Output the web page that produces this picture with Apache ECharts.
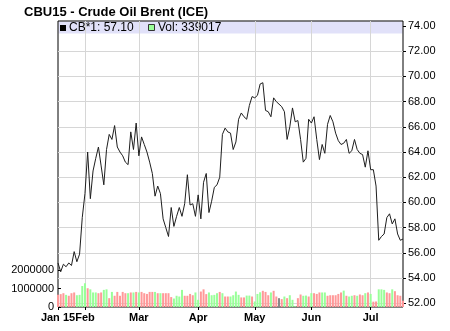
<!DOCTYPE html>
<html><head><meta charset="utf-8">
<script src="https://cdn.jsdelivr.net/npm/echarts@6/dist/echarts.min.js"></script>
<style>html,body{margin:0;padding:0;background:#fff}#c{width:450px;height:331px}</style>
</head><body><div id="c"></div>
<script>
const titleText = 'CBU15 - Crude Oil Brent (ICE)';
const seriesName = 'CB*1';
const startDate = '2015-01-19';
const holidays = ['2015-04-03'];
const monthNames = ['Jan 15','Feb','Mar','Apr','May','Jun','Jul'];
const priceMin = 52, priceMax = 74, priceStep = 2;
const volMax = 2000000, volStep = 1000000;

const prices = [
55.2,54.5,55.1,54.9,55.2,55.0,56.1,55.3,55.9,58.8,
60.7,64.0,60.3,62.5,63.5,64.4,62.9,61.4,64.2,65.4,
65.0,66.1,64.4,64.0,63.7,63.2,63.0,65.6,64.2,66.3,
63.7,65.2,64.6,64.0,63.2,62.3,60.5,61.3,60.7,58.7,
58.0,57.3,59.6,58.1,58.9,59.6,58.9,59.9,62.2,59.8,
59.9,58.9,60.6,58.7,61.6,62.3,59.2,60.1,61.2,61.4,
62.0,65.4,65.9,65.6,65.5,64.2,64.8,66.6,67.1,66.8,
66.6,67.7,68.4,68.3,68.5,69.4,69.5,67.3,67.2,66.8,
68.3,68.0,67.8,67.6,67.2,65.0,66.0,67.5,66.4,66.5,
65.0,63.2,63.5,66.6,66.3,66.8,65.0,63.4,64.6,63.9,
66.2,66.9,66.4,65.5,64.9,64.6,64.7,65.0,63.9,64.1,
65.0,64.2,63.9,63.8,62.8,64.1,62.6,62.6,61.3,57.0,
57.3,57.5,58.8,59.1,58.3,58.7,57.5,57.0,57.1
];

const volumes = [
660000,700000,750000,660000,610000,750000,790000,640000,660000,1140000,
1290000,1020000,960000,790000,790000,750000,790000,930000,960000,480000,
820000,610000,820000,610000,820000,750000,750000,790000,790000,820000,
790000,820000,750000,710000,820000,820000,820000,750000,750000,750000,
750000,750000,540000,460000,610000,570000,930000,610000,610000,710000,
640000,790000,390000,840000,960000,700000,790000,640000,660000,750000,
820000,750000,570000,570000,570000,640000,840000,660000,520000,520000,
620000,620000,570000,300000,710000,800000,880000,820000,640000,790000,
880000,570000,480000,430000,570000,480000,640000,390000,40000,480000,
680000,610000,620000,570000,750000,750000,710000,790000,790000,790000,
610000,640000,640000,640000,710000,790000,890000,610000,570000,610000,
640000,610000,680000,640000,750000,790000,710000,290000,300000,960000,
960000,930000,790000,750000,960000,860000,640000,610000,339017
];

// G = up (green), R = down (red), N = unchanged (grey)
const volDir = [
'R','R','R','G','R','R','R','G','G','G',
'G','R','G','G','G','R','R','G','G','R',
'G','R','R','R','R','R','G','R','G','R',
'G','R','R','R','R','R','G','R','G','R',
'R','R','R','G','G','G','G','R','R','R',
'R','G','G','R','R','R','G','G','G','G',
'R','G','R','R','G','G','G','G','R','R',
'G','G','R','G','G','G','R','R','R','G',
'R','R','N','R','G','R','G','G','G','R',
'R','G','G','R','G','R','R','R','G','G',
'R','R','R','R','R','R','G','R','G','G',
'R','G','R','R','G','R','G','R','R','G',
'G','G','R','R','G','R','R','R','R'
];

// trading-day categories
const dates = [];
(function(){
  let d = new Date(startDate + 'T00:00:00Z');
  while (dates.length < prices.length) {
    const wd = d.getUTCDay();
    const s = d.toISOString().slice(0,10);
    if (wd !== 0 && wd !== 6 && holidays.indexOf(s) < 0) dates.push(s);
    d = new Date(d.getTime() + 86400000);
  }
})();
const labelAt = {};
let mi = 0;
dates.forEach((s, i) => {
  if (i === 0 || s.slice(5,7) !== dates[i-1].slice(5,7)) { labelAt[i] = monthNames[mi++]; }
});

const FONT = '"Liberation Sans", Arial, Helvetica, sans-serif';
const GL = 58, GR = 47;
const colors = {G:'#99ff99', R:'#ff9999', N:'#888888'};
const lastPrice = prices[prices.length-1];
const lastVol = volumes[volumes.length-1];

const chart = echarts.init(document.getElementById('c'), null, {renderer:'canvas'});
chart.setOption({
  animation: false,
  backgroundColor: '#fff',
  textStyle: {fontFamily: FONT},
  title: {text: titleText, left: 24, top: 6, padding: 0,
          textStyle: {fontFamily: FONT, fontWeight: 'bold', fontSize: 13, color: '#000'}},
  grid: [
    {left: GL, right: GR, top: 21, bottom: 24, show: true, borderColor: '#000', borderWidth: 1, backgroundColor: 'transparent'},
    {left: GL, right: GR, top: 26, bottom: 27.7},
    {left: GL, right: GR, top: 270.2, bottom: 24}
  ],
  graphic: [
    {type:'rect', z:-10, shape:{x:GL+0.5, y:21.5, width:344, height:12}, style:{fill:'#e1e1f9'}},
    {type:'rect', shape:{x:60, y:25, width:6, height:6}, style:{fill:'#000'}},
    {type:'text', style:{x:69, y:28, text: seriesName + ': ' + lastPrice.toFixed(2), fontSize:12, fontFamily:FONT, fill:'#000', verticalAlign:'middle', textAlign:'left'}},
    {type:'rect', shape:{x:148.5, y:24.5, width:6, height:6}, style:{fill:'#99ff99', stroke:'#333', lineWidth:1}},
    {type:'text', style:{x:158, y:28, text: 'Vol: ' + lastVol, fontSize:12, fontFamily:FONT, fill:'#000', verticalAlign:'middle', textAlign:'left'}}
  ],
  xAxis: [
    {type:'category', gridIndex:0, data:dates, boundaryGap:false,
     axisLine:{show:false},
     axisTick:{show:true, length:3, interval:(i)=>labelAt[i]!==undefined, lineStyle:{color:'#000'}},
     axisLabel:{show:true, interval:(i)=>labelAt[i]!==undefined, formatter:(v,i)=>labelAt[i]||'', fontWeight:'bold', fontSize:11, color:'#000', margin:5, fontFamily:FONT},
     splitLine:{show:true, interval:(i)=>labelAt[i]!==undefined && i>0, lineStyle:{color:'#d6d6d6', width:1}}},
    {type:'category', gridIndex:1, data:dates, boundaryGap:false, show:false},
    {type:'category', gridIndex:2, data:dates, boundaryGap:false, show:false}
  ],
  yAxis: [
    {type:'value', gridIndex:0, show:false},
    {type:'value', gridIndex:1, position:'right', min:priceMin, max:priceMax, interval:priceStep,
     axisLine:{show:false},
     axisTick:{show:true, length:3, lineStyle:{color:'#000'}},
     axisLabel:{formatter:(v)=>v.toFixed(2), fontSize:11, color:'#000', margin:5, fontFamily:FONT},
     splitLine:{show:true, showMaxLine:false, lineStyle:{color:'#d6d6d6', width:1}}},
    {type:'value', gridIndex:2, position:'left', min:0, max:volMax, interval:volStep,
     axisLine:{show:false},
     axisTick:{show:true, inside:true, length:3, lineStyle:{color:'#000'}},
     axisLabel:{fontSize:11, color:'#000', margin:4, fontFamily:FONT, formatter:(v)=>String(v)},
     splitLine:{show:false}}
  ],
  series: [
    {type:'bar', xAxisIndex:2, yAxisIndex:2, barWidth:2,
     data: volumes.map((v,i)=>({value:v, itemStyle:{color:colors[volDir[i]]}}))},
    {type:'line', xAxisIndex:1, yAxisIndex:1, data:prices, symbol:'none', z:5,
     lineStyle:{color:'#1e1e1e', width:1},
     markLine:{silent:true, symbol:'none', animation:false,
       lineStyle:{opacity:0},
       data:[{yAxis:lastPrice}],
       label:{show:true, position:'end', distance:5, formatter:()=>lastPrice.toFixed(2),
         backgroundColor:'#000', color:'#fff', fontSize:11, fontFamily:FONT, padding:[0,0,0,0]}}}
  ]
});
</script></body></html>
